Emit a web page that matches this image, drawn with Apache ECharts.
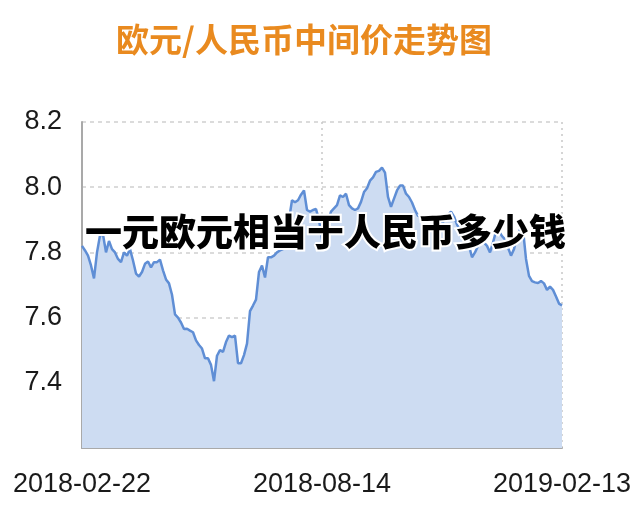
<!DOCTYPE html>
<html lang="zh">
<head>
    <meta charset="UTF-8">
    <title>欧元/人民币中间价走势图</title>
    <script src="https://cdn.jsdelivr.net/npm/echarts@6/dist/echarts.min.js"></script>
    <style>
        html, body { margin: 0; padding: 0; background: #fff; }
    </style>
</head>
<body>
<div id="main" style="width: 640px; height: 522px;"></div>
<script>
    // 欧元/人民币中间价, 2018-02-22 ~ 2019-02-13
    var rates = [
        7.82, 7.806, 7.79, 7.76, 7.72, 7.80, 7.852, 7.855, 7.80, 7.835,
        7.81, 7.80, 7.78, 7.77, 7.80, 7.79, 7.81, 7.775, 7.735, 7.726,
        7.74, 7.765, 7.772, 7.754, 7.77, 7.77, 7.778, 7.745, 7.717, 7.705,
        7.67, 7.61, 7.60, 7.585, 7.565, 7.566, 7.56, 7.555, 7.53, 7.516,
        7.505, 7.475, 7.475, 7.455, 7.405, 7.483, 7.50, 7.495, 7.525, 7.545,
        7.54, 7.545, 7.46, 7.46, 7.485, 7.52, 7.62, 7.637, 7.655, 7.74,
        7.76, 7.723, 7.785, 7.785, 7.79, 7.80, 7.806, 7.81, 7.835, 7.90,
        7.96, 7.954, 7.96, 7.977, 7.99, 7.93, 7.925, 7.93, 7.933, 7.90,
        7.84, 7.807, 7.895, 7.925, 7.935, 7.945, 7.975, 7.97, 7.98, 7.945,
        7.935, 7.93, 7.935, 7.955, 7.985, 7.997, 8.02, 8.03, 8.047, 8.05,
        8.06, 8.045, 7.97, 7.94, 7.965, 7.99, 8.005, 8.005, 7.98, 7.97,
        7.953, 7.93, 7.912, 7.91, 7.90, 7.895, 7.89, 7.885, 7.88, 7.885,
        7.89, 7.90, 7.915, 7.925, 7.91, 7.885, 7.87, 7.86, 7.84, 7.82,
        7.785, 7.80, 7.82, 7.83, 7.83, 7.82, 7.80, 7.83, 7.865, 7.865,
        7.85, 7.84, 7.815, 7.79, 7.81, 7.85, 7.87, 7.87, 7.78, 7.728,
        7.712, 7.708, 7.706, 7.712, 7.705, 7.685, 7.695, 7.685, 7.665, 7.643,
        7.637
    ];
    var tickLabels = ['2018-02-22', '2018-08-14', '2019-02-13'];
    var yTicks = [7.4, 7.6, 7.8, 8.0, 8.2];

    var midIdx = Math.round((rates.length - 1) / 2);
    var lastIdx = rates.length - 1;
    var days = rates.map(function (v, i) { return String(i); });

    function labelFor(i) {
        if (i === 0) return tickLabels[0];
        if (i === midIdx) return tickLabels[1];
        if (i === lastIdx) return tickLabels[2];
        return '';
    }

    var mychart = echarts.init(document.getElementById('main'));
    mychart.setOption({
        animation: false,
        title: {
            text: '欧元/人民币中间价走势图',
            left: 299,
            top: 18,
            textAlign: 'center',
            textStyle: {
                color: '#e98a1f',
                fontSize: 33,
                fontWeight: 'bold',
                fontFamily: 'Noto Sans CJK SC'
            }
        },
        grid: { left: 82, right: 78, top: 122, bottom: 74 },
        xAxis: {
            type: 'category',
            data: days,
            boundaryGap: false,
            axisLine: { lineStyle: { color: '#a9a9a9', width: 2 } },
            axisTick: { show: false },
            axisLabel: {
                interval: function (i) { return i === 0 || i === midIdx || i === lastIdx; },
                formatter: function (v, i) { return labelFor(i); },
                color: '#1a1a1a',
                fontSize: 27,
                fontFamily: 'Liberation Sans',
                margin: 23,
                showMinLabel: true,
                showMaxLabel: true
            },
            splitLine: {
                show: true,
                interval: function (i) { return i === midIdx || i === lastIdx; },
                lineStyle: { color: '#c8c8c8', type: [2, 4], width: 1.5 }
            }
        },
        yAxis: {
            type: 'value',
            min: 7.2,
            max: 8.2,
            interval: 0.2,
            axisLine: { show: true, lineStyle: { color: '#a9a9a9', width: 2 } },
            axisTick: { show: false },
            axisLabel: {
                formatter: function (v) {
                    var s = v.toFixed(1);
                    return yTicks.indexOf(+s) >= 0 ? s : '';
                },
                color: '#1a1a1a',
                fontSize: 27,
                fontFamily: 'Liberation Sans',
                margin: 20
            },
            splitLine: {
                lineStyle: { color: '#cfcfcf', type: [4, 4], width: 1.5 }
            }
        },
        series: [{
            type: 'line',
            data: rates,
            symbol: 'none',
            lineStyle: { color: '#5f8ed5', width: 2.5 },
            areaStyle: { color: '#cddcf2', opacity: 1 },
            z: 1
        }],
        graphic: [
            {
                type: 'text',
                left: 422,
                top: 408,
                style: {
                    text: 'Chinamoney',
                    fill: '#a3a3a3',
                    font: '13px "Liberation Sans"'
                }
            },
            {
                type: 'text',
                left: 83,
                top: 211,
                z: 100,
                style: {
                    text: '一元欧元相当于人民币多少钱',
                    fill: '#000',
                    stroke: '#fff',
                    lineWidth: 4,
                    font: '900 37px "Noto Sans CJK SC"'
                }
            }
        ]
    });
</script>
</body>
</html>
